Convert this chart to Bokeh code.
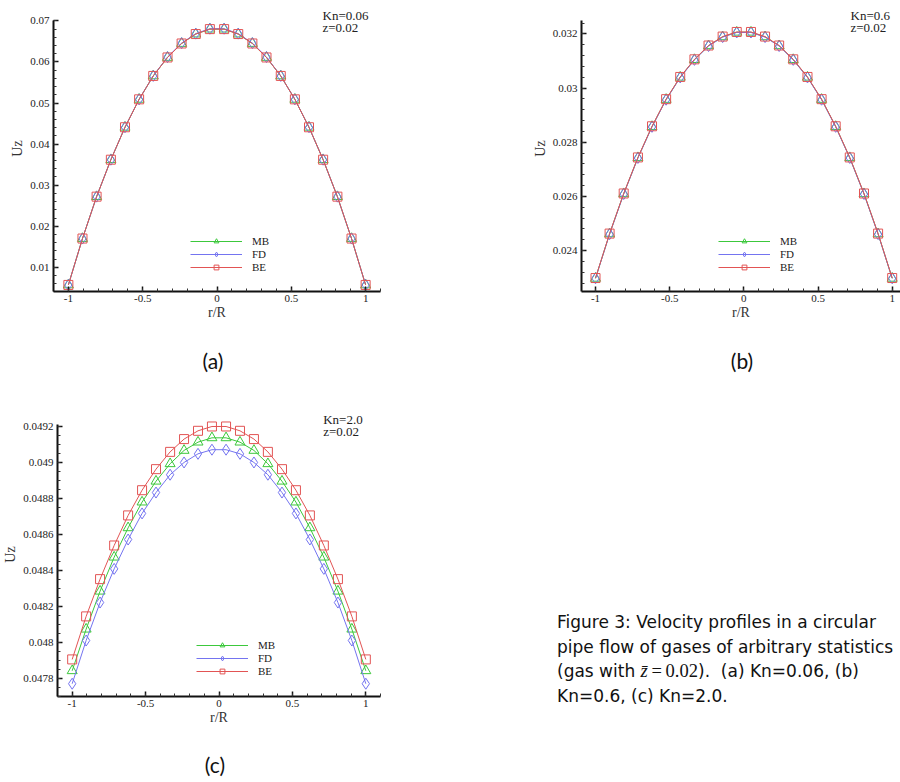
from bokeh.plotting import figure
from bokeh.models import (Range1d, SingleIntervalTicker, CustomJSTickFormatter,
                          Legend, LegendItem, Label, Div)
from bokeh.layouts import row, column
from bokeh.embed import file_html
from bokeh.resources import INLINE

# ---------------- data ----------------
r_over_R = [-1.0, -0.905, -0.810, -0.714, -0.619, -0.524, -0.429, -0.333, -0.238, -0.143, -0.048,
            0.048, 0.143, 0.238, 0.333, 0.429, 0.524, 0.619, 0.714, 0.810, 0.905, 1.0]

series_names = ["MB", "FD", "BE"]
series_markers = ["triangle", "diamond", "square"]
series_colors = ["#3cc83c", "#7474f0", "#e25454"]

# (a) Kn = 0.06
uz_a_MB = [0.0057, 0.0170, 0.0272, 0.0362, 0.0441, 0.0509, 0.0566, 0.0611, 0.0645, 0.0668, 0.0680,
           0.0680, 0.0668, 0.0645, 0.0611, 0.0566, 0.0509, 0.0441, 0.0362, 0.0272, 0.0170, 0.0057]
uz_a_FD = [0.0057, 0.0170, 0.0272, 0.0362, 0.0441, 0.0509, 0.0566, 0.0612, 0.0646, 0.0669, 0.0681,
           0.0681, 0.0669, 0.0646, 0.0612, 0.0566, 0.0509, 0.0441, 0.0362, 0.0272, 0.0170, 0.0057]
uz_a_BE = [0.0057, 0.0170, 0.0272, 0.0362, 0.0441, 0.0509, 0.0566, 0.0611, 0.0645, 0.0668, 0.0680,
           0.0680, 0.0668, 0.0645, 0.0611, 0.0566, 0.0509, 0.0441, 0.0362, 0.0272, 0.0170, 0.0057]

# (b) Kn = 0.6
uz_b_MB = [0.02298, 0.02462, 0.02610, 0.02743, 0.02858, 0.02958, 0.03040, 0.03105, 0.03156, 0.03189, 0.03206,
           0.03206, 0.03189, 0.03156, 0.03105, 0.03040, 0.02958, 0.02858, 0.02743, 0.02610, 0.02462, 0.02298]
uz_b_FD = [0.02298, 0.02461, 0.02609, 0.02742, 0.02857, 0.02957, 0.03039, 0.03104, 0.03155, 0.03188, 0.03205,
           0.03205, 0.03188, 0.03155, 0.03104, 0.03039, 0.02957, 0.02857, 0.02742, 0.02609, 0.02461, 0.02298]
uz_b_BE = [0.02299, 0.02463, 0.02611, 0.02744, 0.02859, 0.02959, 0.03041, 0.03106, 0.03157, 0.03190, 0.03207,
           0.03207, 0.03190, 0.03157, 0.03106, 0.03041, 0.02959, 0.02859, 0.02744, 0.02611, 0.02463, 0.02299]

# (c) Kn = 2.0
uz_c_MB = [0.047841, 0.048072, 0.048283, 0.048472, 0.048635, 0.048778, 0.048894, 0.048991, 0.049065, 0.049111, 0.049135,
           0.049135, 0.049111, 0.049065, 0.048991, 0.048894, 0.048778, 0.048635, 0.048472, 0.048283, 0.048072, 0.047841]
uz_c_FD = [0.047769, 0.048009, 0.048220, 0.048407, 0.048570, 0.048715, 0.048831, 0.048930, 0.048998, 0.049046, 0.049069,
           0.049069, 0.049046, 0.048998, 0.048930, 0.048831, 0.048715, 0.048570, 0.048407, 0.048220, 0.048009, 0.047769]
uz_c_BE = [0.047904, 0.048143, 0.048350, 0.048537, 0.048704, 0.048844, 0.048961, 0.049057, 0.049128, 0.049174, 0.049198,
           0.049198, 0.049174, 0.049128, 0.049057, 0.048961, 0.048844, 0.048704, 0.048537, 0.048350, 0.048143, 0.047904]

kn_labels = ["Kn=0.06", "Kn=0.6", "Kn=2.0"]
z_label = "z=0.02"
x_title = "r/R"
y_title = "Uz"

SERIF = "Liberation Serif"
SANS = "Lato"
CAP_SANS = "DejaVu Sans"


def panel(series, x_rng, y_rng, y_interval, y_minor, kn, width, height,
          mbl, mbr, mbt, mbb, extra_top, legend_loc):
    """y_rng is the axis extent; the frame is extended by extra_top px above it
    so that the Kn / z note can sit over the axis top without being clipped."""
    axis_h = height - mbt - mbb - extra_top
    dy = (y_rng[1] - y_rng[0]) / axis_h
    y_end = y_rng[1] + extra_top * dy
    p = figure(width=width, height=height, x_range=Range1d(*x_rng), y_range=Range1d(y_rng[0], y_end),
               output_backend="svg", toolbar_location=None,
               min_border_left=mbl, min_border_right=mbr,
               min_border_top=mbt, min_border_bottom=mbb)
    p.outline_line_color = None
    p.grid.visible = False
    p.background_fill_color = "white"
    p.border_fill_color = "white"

    p.xaxis.ticker = SingleIntervalTicker(interval=0.5, num_minor_ticks=5)
    p.yaxis.ticker = SingleIntervalTicker(interval=y_interval, num_minor_ticks=y_minor)
    p.yaxis.bounds = (y_rng[0], y_rng[1])
    fmt = "return String(Number(tick.toFixed(6)));"
    p.xaxis.formatter = CustomJSTickFormatter(code=fmt)
    p.yaxis.formatter = CustomJSTickFormatter(code=fmt)
    for ax in (p.xaxis, p.yaxis):
        ax.axis_line_width = 2
        ax.axis_line_color = "#111111"
        ax.major_tick_in = 5
        ax.major_tick_out = 0
        ax.minor_tick_in = 3
        ax.minor_tick_out = 0
        ax.major_tick_line_width = 1.5
        ax.major_tick_line_color = "#111111"
        ax.minor_tick_line_color = "#333333"
        ax.major_label_text_font = SERIF
        ax.major_label_text_font_size = "11px"
        ax.major_label_text_color = "#222222"
        ax.axis_label_text_font = SERIF
        ax.axis_label_text_font_size = "14px"
        ax.axis_label_text_font_style = "normal"
        ax.axis_label_text_color = "#333333"
    p.xaxis.axis_label = x_title
    p.yaxis.axis_label = y_title
    p.xaxis.major_label_standoff = 3
    p.xaxis.axis_label_standoff = 0
    p.yaxis.major_label_standoff = 4
    p.yaxis.axis_label_standoff = 2

    items = []
    sizes = {"triangle": 10, "diamond": 11, "square": 9}
    for name, mk, col, ys in zip(series_names, series_markers, series_colors, series):
        ln = p.line(r_over_R, ys, line_color=col, line_width=1)
        sc = p.scatter(r_over_R, ys, marker=mk, size=sizes[mk],
                       fill_color=None, line_color=col, line_width=1)
        items.append(LegendItem(label=name, renderers=[ln, sc]))
    leg = Legend(items=items, location=legend_loc, glyph_width=52, glyph_height=12,
                 label_height=12, spacing=1, padding=0, margin=0, label_standoff=10,
                 border_line_color=None, background_fill_alpha=0,
                 label_text_font=SERIF, label_text_font_size="11px",
                 label_text_color="#222222")
    p.add_layout(leg)

    frame_w = width - mbl - mbr
    dx = (x_rng[1] - x_rng[0]) / frame_w
    lx = x_rng[0] + 269 * dx
    p.add_layout(Label(x=lx, y=y_rng[1] + 5 * dy, text=kn, text_font=SERIF,
                       text_font_size="13px", text_baseline="middle", text_color="#222222"))
    p.add_layout(Label(x=lx, y=y_rng[1] - 7 * dy, text=z_label, text_font=SERIF,
                       text_font_size="13px", text_baseline="middle", text_color="#222222"))
    return p


def tag(text, width, height, center_x):
    html = ('<div style="width:200px;margin-left:%dpx;text-align:center;'
            'font-family:%s;font-size:21px;line-height:26px;color:#111;">%s</div>'
            % (center_x - 100, SANS, text))
    return Div(text=html, width=width, height=height, margin=0)


# (a): frame x 53..380, axis top y=20, bottom y=291
pa = panel([uz_a_MB, uz_a_FD, uz_a_BE], (-1.1, 1.1), (0.0041, 0.0701), 0.01, 5, kn_labels[0],
           440, 348, 53, 60, 5, 57, 15, (137, 18))
# (b): frame x 581..900
pb = panel([uz_b_MB, uz_b_FD, uz_b_BE], (-1.0944, 1.056), (0.022493, 0.032493), 0.002, 5, kn_labels[1],
           460, 348, 141, 0, 5, 57, 15, (137, 18))
# (c): frame x 53..380, axis top y=424, bottom y=696
pc = panel([uz_c_MB, uz_c_FD, uz_c_BE], (-1.1, 1.1), (0.047698, 0.049209), 0.0002, 4, kn_labels[2],
           440, 368, 53, 60, 28, 56, 12, (139, 19))

da = tag("(a)", 440, 36, 213)
db = tag("(b)", 460, 36, 742 - 440)
dc = tag("(c)", 440, 28, 215)

caption_html = (
    '<div style="margin-left:117px;margin-top:226px;width:343px;white-space:nowrap;'
    'font-family:\'%s\';font-size:17px;line-height:24.5px;color:#111;">'
    'Figure 3: Velocity profiles in a circular<br>'
    'pipe flow of gases of arbitrary statistics<br>'
    '(gas with <span style="font-family:\'%s\';font-size:18.5px;"><i>z&#772;</i>&#8201;=&#8201;0.02</span>).&nbsp; '
    '(a) Kn=0.06, (b)<br>'
    'Kn=0.6, (c) Kn=2.0.'
    '</div>' % (CAP_SANS, SERIF)
)
dcap = Div(text=caption_html, width=460, height=396, margin=0)

layout = column(row(column(pa, da), column(pb, db)),
                row(column(pc, dc), dcap))

open("out.html", "w").write(file_html(layout, INLINE))
